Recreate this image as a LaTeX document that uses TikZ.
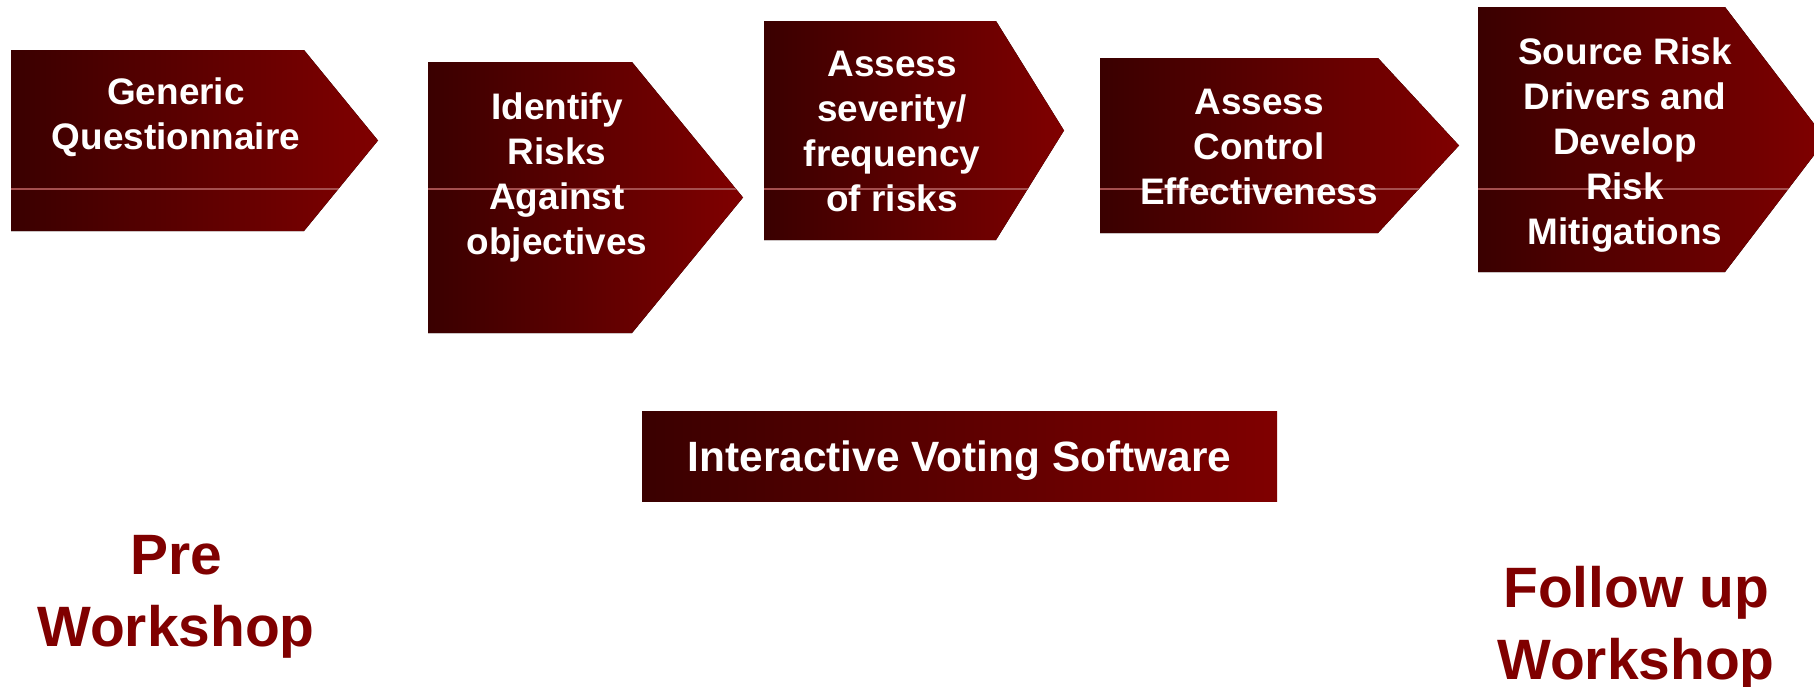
\documentclass[tikz,border=0pt]{standalone}
\usepackage{fontspec}
\setmainfont{Liberation Sans}
\definecolor{darkmaroon}{RGB}{58,0,0}
\definecolor{maroon}{RGB}{128,0,0}
\definecolor{sheen}{RGB}{165,78,78}
\tikzset{
  chevron/.style={left color=darkmaroon, right color=maroon},
  steptext/.style={text=white, align=center, inner sep=0pt,
    font=\bfseries\fontsize{10.5}{12.8}\selectfont},
  phase/.style={text=maroon, align=center, inner sep=0pt,
    font=\bfseries\fontsize{16.2}{20.5}\selectfont},
}
\begin{document}
\begin{tikzpicture}
\useasboundingbox (0,0) rectangle (18.14,6.86);
% chevrons: left / rect end / tip / top / bottom
\foreach \l/\r/\p/\t/\b in {0.11/3.04/3.78/6.36/4.55, 4.28/6.32/7.43/6.24/3.53,
    7.64/9.96/10.64/6.65/4.46, 11.00/13.78/14.59/6.28/4.53, 14.78/17.25/18.26/6.79/4.14}{
  \fill[chevron] (\l,\t) -- (\r,\t) -- (\p,{(\t+\b)/2}) -- (\r,\b) -- (\l,\b) -- cycle;
  \begin{scope}
    \clip (\l,\t) -- (\r,\t) -- (\p,{(\t+\b)/2}) -- (\r,\b) -- (\l,\b) -- cycle;
    \draw[sheen, line width=0.3pt] (\l,4.97) -- (\p,4.97);
  \end{scope}
}
\node[steptext] (generic) at (1.76,5.69) {Generic\\Questionnaire};
\node[steptext] (identify) at (5.57,5.09) {Identify\\Risks\\Against\\objectives};
\node[steptext] (severity) at (8.92,5.55) {Assess\\severity/\\frequency\\of risks};
\node[steptext] (control) at (12.59,5.395) {Assess\\Control\\Effectiveness};
\node[steptext] (source) at (16.25,5.41) {Source Risk\\Drivers and\\Develop\\Risk\\Mitigations};
% voting bar
\node[chevron, minimum width=6.35cm, minimum height=0.9cm, text=white,
  text height=0.30cm, text depth=0cm,
  font=\bfseries\fontsize{12.06}{14}\selectfont] (voting) at (9.595,2.30)
  {Interactive Voting Software};
\node[phase] (pre) at (1.76,0.895) {Pre\\Workshop};
\node[phase] (follow) at (16.36,0.575) {Follow up\\Workshop};
\end{tikzpicture}
\end{document}
